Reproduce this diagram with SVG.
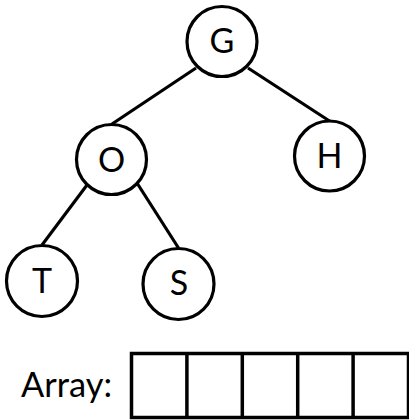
<svg xmlns="http://www.w3.org/2000/svg" width="409" height="420" viewBox="0 0 409 420">
<style>
.n{fill:#fff;stroke:#000;stroke-width:3.2}
.e{stroke:#000;stroke-width:3.2;fill:none}
.t{font-family:Lato,"Open Sans","Liberation Sans",sans-serif;font-size:34px;fill:#000;text-anchor:middle}
.c{fill:#fff;stroke:#000;stroke-width:3.5}
</style>
<rect width="409" height="420" fill="#fff"/>
<g id="connectors">
<line class="e" x1="196" y1="68" x2="112" y2="124"/>
<line class="e" x1="248" y1="68" x2="329.5" y2="121"/>
<line class="e" x1="87" y1="185" x2="42" y2="245"/>
<line class="e" x1="137" y1="183" x2="178.5" y2="248"/>
</g>
<g id="node-G"><circle class="n" cx="222" cy="41.5" r="35"/><text class="t" x="222" y="53">G</text></g>
<g id="node-O"><circle class="n" cx="111.5" cy="159.5" r="35"/><text class="t" x="111.5" y="171.5">O</text></g>
<g id="node-H"><circle class="n" cx="329.5" cy="156" r="35"/><text class="t" x="329.5" y="168">H</text></g>
<g id="node-T"><circle class="n" cx="42" cy="281" r="35.5"/><text class="t" x="42" y="293">T</text></g>
<g id="node-S"><circle class="n" cx="178.5" cy="284" r="35.5"/><text class="t" x="179" y="295">S</text></g>
<g id="array">
<text class="t" x="21" y="397" style="text-anchor:start" textLength="91" lengthAdjust="spacingAndGlyphs">Array:</text>
<rect class="c" x="131.5" y="353.5" width="277" height="64"/>
<line class="e" style="stroke-width:3.5" x1="186.9" y1="353.5" x2="186.9" y2="417.5"/>
<line class="e" style="stroke-width:3.5" x1="242.3" y1="353.5" x2="242.3" y2="417.5"/>
<line class="e" style="stroke-width:3.5" x1="297.7" y1="353.5" x2="297.7" y2="417.5"/>
<line class="e" style="stroke-width:3.5" x1="353.1" y1="353.5" x2="353.1" y2="417.5"/>
</g>
</svg>
